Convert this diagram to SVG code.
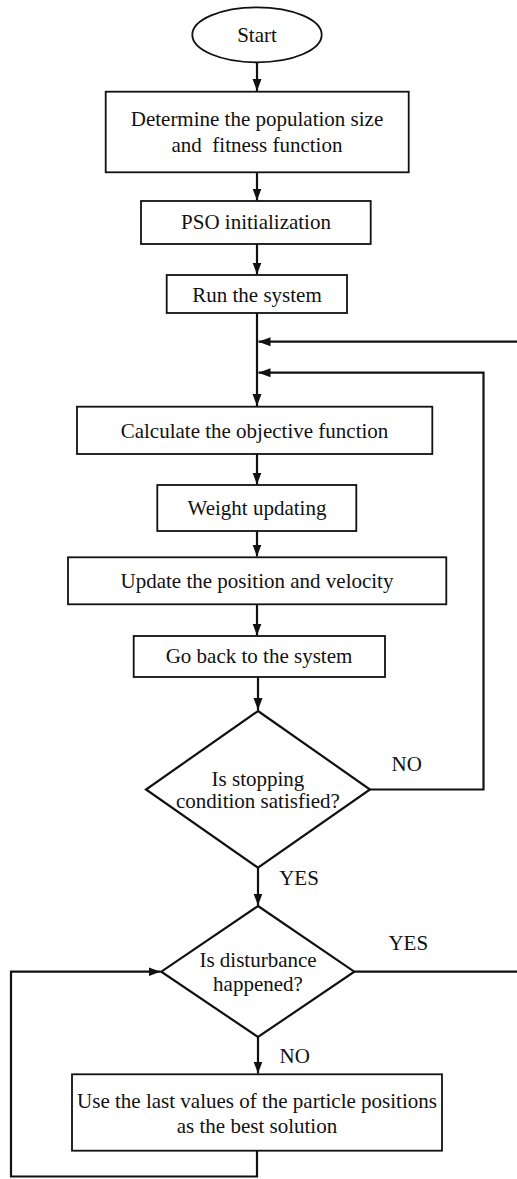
<svg xmlns="http://www.w3.org/2000/svg" width="517" height="1179" viewBox="0 0 517 1179">
<style>
  .box { fill: #fff; stroke: #111; stroke-width: 1.8; }
  .dia { fill: #fff; stroke: #111; stroke-width: 2.2; }
  .t { font-family: "Liberation Serif", "Times New Roman", serif; font-size: 21px; fill: #111; text-anchor: middle; }
  .c { fill: none; stroke: #111; stroke-width: 2.2; }
</style>
<defs>
  <marker id="ah" viewBox="0 0 12 10" refX="12" refY="5" markerWidth="12" markerHeight="10" markerUnits="userSpaceOnUse" orient="auto">
    <path d="M0,0.5 L12,5 L0,9.5 Z" fill="#111"/>
  </marker>
</defs>
<rect width="517" height="1179" fill="#fff"/>

<g id="connectors">
  <line class="c" x1="257" y1="62" x2="257" y2="91" marker-end="url(#ah)"/>
  <line class="c" x1="257" y1="172.5" x2="257" y2="200.5" marker-end="url(#ah)"/>
  <line class="c" x1="257" y1="244" x2="257" y2="274.5" marker-end="url(#ah)"/>
  <line class="c" x1="257" y1="313" x2="257" y2="406" marker-end="url(#ah)"/>
  <line class="c" x1="257" y1="454" x2="257" y2="484.5" marker-end="url(#ah)"/>
  <line class="c" x1="257" y1="531" x2="257" y2="556.5" marker-end="url(#ah)"/>
  <line class="c" x1="257" y1="604.5" x2="257" y2="635.5" marker-end="url(#ah)"/>
  <line class="c" x1="258" y1="677" x2="258" y2="710" marker-end="url(#ah)"/>
  <line class="c" x1="258" y1="867.7" x2="258" y2="905.5" marker-end="url(#ah)"/>
  <line class="c" x1="258" y1="1037" x2="258" y2="1073.5" marker-end="url(#ah)"/>
  <polyline class="c" points="370,789.5 483.5,789.5 483.5,372.7 258.5,372.7" marker-end="url(#ah)"/>
  <polyline class="c" points="354.3,971.7 518,971.7"/>
  <polyline class="c" points="518,341.7 258.5,341.7" marker-end="url(#ah)"/>
  <polyline class="c" points="257,1150.7 257,1176.5 11,1176.5 11,971.7 160.5,971.7" marker-end="url(#ah)"/>
</g>

<g id="start">
  <ellipse class="box" cx="257" cy="34.8" rx="64.7" ry="27.5"/>
  <text class="t" x="257" y="41.7">Start</text>
</g>
<g id="determine">
  <rect class="box" x="105.7" y="91.7" width="303" height="80.6"/>
  <text class="t" x="257" y="126">Determine the population size</text>
  <text class="t" x="257" y="151.7" xml:space="preserve">and  fitness function</text>
</g>
<g id="pso-init">
  <rect class="box" x="141" y="201" width="229.7" height="43"/>
  <text class="t" x="256" y="229">PSO initialization</text>
</g>
<g id="run">
  <rect class="box" x="166.7" y="275" width="180.3" height="38"/>
  <text class="t" x="257" y="301.7">Run the system</text>
</g>
<g id="calc">
  <rect class="box" x="77" y="406.7" width="355.3" height="47.3"/>
  <text class="t" x="254.5" y="438.3">Calculate the objective function</text>
</g>
<g id="weight">
  <rect class="box" x="157.3" y="485" width="199" height="46"/>
  <text class="t" x="257" y="515">Weight updating</text>
</g>
<g id="update">
  <rect class="box" x="68" y="557.3" width="378.3" height="47"/>
  <text class="t" x="257" y="588.3">Update the position and velocity</text>
</g>
<g id="goback">
  <rect class="box" x="133.7" y="636" width="251.3" height="41"/>
  <text class="t" x="259" y="662.7">Go back to the system</text>
</g>
<g id="stopping">
  <polygon class="dia" points="258,711 370,789.5 258,867.7 146,789.5"/>
  <text class="t" x="258" y="785.7">Is stopping</text>
  <text class="t" x="258" y="808.3">condition satisfied?</text>
</g>
<g id="disturbance">
  <polygon class="dia" points="258,906 354.3,971.7 258,1037 161.3,971.7"/>
  <text class="t" x="258" y="966.6">Is disturbance</text>
  <text class="t" x="258" y="991.3">happened?</text>
</g>
<g id="last-values">
  <rect class="box" x="72" y="1074.3" width="370" height="76.4"/>
  <text class="t" x="257" y="1108.3">Use the last values of the particle positions</text>
  <text class="t" x="257" y="1132.7">as the best solution</text>
</g>
<g id="labels">
  <text class="t" x="406.7" y="771">NO</text>
  <text class="t" x="299" y="885">YES</text>
  <text class="t" x="408.3" y="950">YES</text>
  <text class="t" x="294.7" y="1063.3">NO</text>
</g>
</svg>
